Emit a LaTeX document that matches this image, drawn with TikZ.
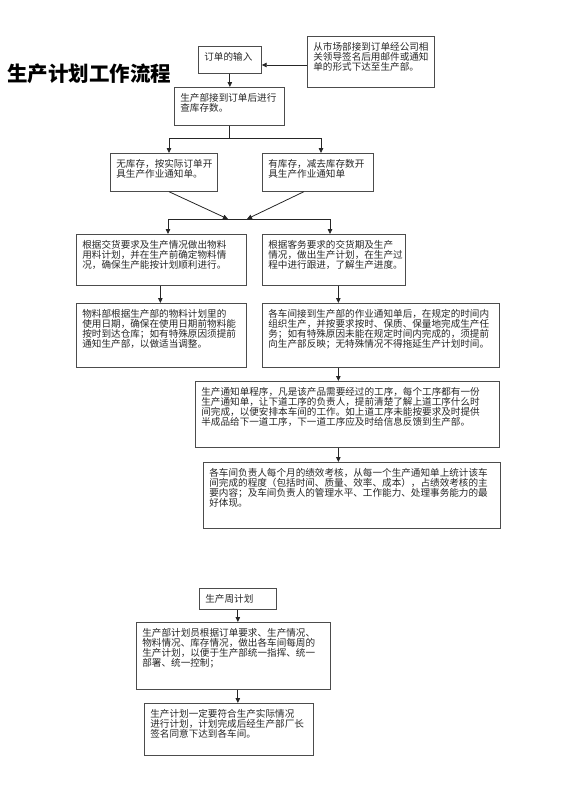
\documentclass[tikz,border=0pt]{standalone}
\usepackage{fontspec}
\usepackage{xcolor}
\usepackage{tikz}
\usetikzlibrary{arrows.meta,positioning,calc}
\newfontfamily\cjk{Noto Sans CJK SC}
\newcommand{\Btxt}[3]{\parbox[c][#2][t]{#1}{\raggedright\hbadness=10000\hfuzz=40pt #3}}
\tikzset{
  Pbox/.style={draw=black!70, line width=0.7pt, anchor=north west,
               inner xsep=6pt, inner ysep=6pt, text=black!85,
               font=\cjk\fontsize{9.6}{9.9}\selectfont},
  Narr/.style={-{Triangle[length=5pt,width=4.5pt]}, line width=0.8pt, black!85},
  Nline/.style={line width=0.8pt, black!85}
}
\begin{document}
\begin{tikzpicture}[x=1pt,y=-1pt]
  \useasboundingbox (0,0) rectangle (560,792);

  \node[font=\cjk\bfseries\fontsize{20.5}{22}\selectfont, anchor=west, inner sep=0pt]
    (title) at (7,74) {生产计划工作流程};

  % order intake
  \node[Pbox] (input) at (198,46) {\Btxt{51pt}{15pt}{订单的输入}};
  \node[Pbox] (market) at (307,36)
    {\Btxt{115pt}{39pt}{从市场部接到订单经公司相\\关领导签名后用邮件或通知\\单的形式下达至生产部。}};
  \node[Pbox] (check) at (174,87)
    {\Btxt{98pt}{26pt}{生产部接到订单后进行\\查库存数。}};

  \node[Pbox] (nostock) at (110,153)
    {\Btxt{95pt}{26pt}{无库存，按实际订单开\\具生产作业通知单。}};
  \node[Pbox] (stock) at (262,153)
    {\Btxt{99pt}{26pt}{有库存，减去库存数开\\具生产作业通知单}};

  \node[Pbox] (material) at (76,234)
    {\Btxt{158pt}{39pt}{根据交货要求及生产情况做出物料\\用料计划，并在生产前确定物料情\\况，确保生产能按计划顺利进行。}};
  \node[Pbox] (plan) at (262,234)
    {\Btxt{131pt}{39pt}{根据客务要求的交货期及生产\\情况，做出生产计划，在生产过\\程中进行跟进，了解生产进度。}};

  \node[Pbox] (arrive) at (76,303)
    {\Btxt{158pt}{52pt}{物料部根据生产部的物料计划里的\\使用日期，确保在使用日期前物料能\\按时到达仓库；如有特殊原因须提前\\通知生产部，以做适当调整。}};
  \node[Pbox] (track) at (262,303)
    {\Btxt{225pt}{52pt}{各车间接到生产部的作业通知单后，在规定的时间内\\组织生产，并按要求按时、保质、保量地完成生产任\\务；如有特殊原因未能在规定时间内完成的，须提前\\向生产部反映；无特殊情况不得拖延生产计划时间。}};

  \node[Pbox] (notice) at (195,381)
    {\Btxt{292pt}{54pt}{生产通知单程序，凡是该产品需要经过的工序，每个工序都有一份\\生产通知单，让下道工序的负责人，提前清楚了解上道工序什么时\\间完成，以便安排本车间的工作。如上道工序未能按要求及时提供\\半成品给下一道工序，下一道工序应及时给信息反馈到生产部。}};
  \node[Pbox] (kpi) at (203,462)
    {\Btxt{285pt}{54pt}{各车间负责人每个月的绩效考核，从每一个生产通知单上统计该车\\间完成的程度（包括时间、质量、效率、成本），占绩效考核的主\\要内容；及车间负责人的管理水平、工作能力、处理事务能力的最\\好体现。}};

  % weekly plan
  \node[Pbox] (weekly) at (199,588) {\Btxt{65pt}{9pt}{生产周计划}};
  \node[Pbox] (planner) at (136,622)
    {\Btxt{182pt}{55pt}{生产部计划员根据订单要求、生产情况、\\物料情况、库存情况，做出各车间每周的\\生产计划，以便于生产部统一指挥、统一\\部署、统一控制；}};
  \node[Pbox] (approve) at (144,703)
    {\Btxt{157pt}{40pt}{生产计划一定要符合生产实际情况\\进行计划，计划完成后经生产部厂长\\签名同意下达到各车间。}};

  \coordinate (split) at (229,138);
  \coordinate (splitL) at (169,138);
  \coordinate (splitR) at (321,138);
  \coordinate (joinL) at (228,219);
  \coordinate (joinR) at (247,219);
  \coordinate (forkL) at (168,219);
  \coordinate (forkR) at (330,219);

  \draw[Narr] (market.west |- 0,65) -- (input.east |- 0,65);
  \draw[Narr] (input.south) -- (check.north -| input.south);
  \draw[Nline] (check.south -| split) -- (split);
  \draw[Nline] (splitL) -- (splitR);
  \draw[Narr] (splitL) -- (splitL |- nostock.north);
  \draw[Narr] (splitR) -- (splitR |- stock.north);
  \draw[Narr] (nostock.south -| splitL) -- (joinL);
  \draw[Narr] ([xshift=-14pt]stock.south) -- (joinR);
  \draw[Nline] (forkL) -- (forkR);
  \draw[Narr] (forkL) -- (forkL |- material.north);
  \draw[Narr] (forkR) -- (forkR |- plan.north);
  \draw[Narr] ([xshift=-1pt]material.south) -- ([xshift=-1pt]material.south |- arrive.north);
  \draw[Narr] ([xshift=4.5pt]plan.south) -- ([xshift=4.5pt]plan.south |- track.north);
  \draw[Narr] ([xshift=4.5pt]plan.south |- track.south) -- ([xshift=4.5pt]plan.south |- notice.north);
  \draw[Narr] ([xshift=4.5pt]plan.south |- notice.south) -- ([xshift=4.5pt]plan.south |- kpi.north);

  \draw[Narr] (weekly.south) -- (weekly.south |- planner.north);
  \draw[Narr] (weekly.south |- planner.south) -- (weekly.south |- approve.north);
\end{tikzpicture}
\end{document}
